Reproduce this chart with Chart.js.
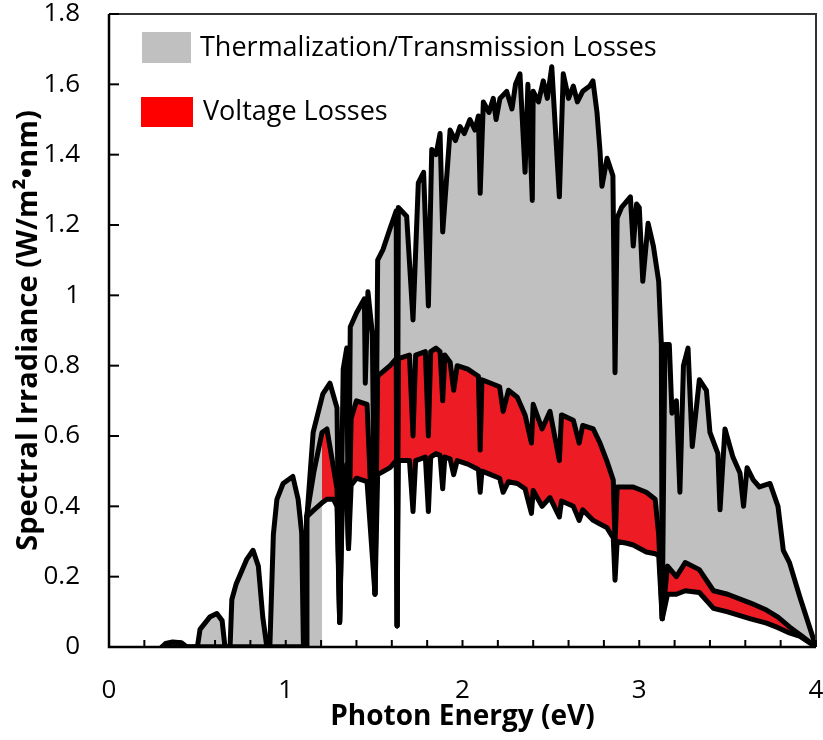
<!DOCTYPE html>
<html>
<head>
<meta charset="utf-8">
<script src="https://cdn.jsdelivr.net/npm/chart.js@4.4.0/dist/chart.umd.min.js"></script>
<style>
  html, body { margin: 0; padding: 0; background: #fff; }
</style>
</head>
<body>
<canvas id="myChart" width="823" height="740"></canvas>
<script>
// solar spectrum (top curve), photon energy in eV vs W/m2/nm
const sunEnergy = [0.30, 0.32, 0.36, 0.41, 0.44, 0.50, 0.515, 0.57, 0.61, 0.64, 0.656, 0.685, 0.695, 0.72, 0.78, 0.815, 0.845, 0.87, 0.893,
  0.91, 0.93, 0.95, 0.985, 1.04, 1.07, 1.09, 1.10, 1.115, 1.12, 1.155, 1.21, 1.25, 1.29, 1.305, 1.325, 1.345, 1.355, 1.365, 1.40, 1.445, 1.45,
  1.465, 1.49, 1.505, 1.52, 1.55, 1.59, 1.625, 1.63, 1.637, 1.684, 1.72, 1.75, 1.78, 1.807, 1.826, 1.85, 1.873, 1.888, 1.93, 1.96, 1.986, 2.01, 2.042, 2.07, 2.09, 2.10,
  2.118, 2.15, 2.174, 2.19, 2.212, 2.25, 2.28, 2.30, 2.325, 2.354, 2.37, 2.395, 2.40, 2.43, 2.457, 2.48, 2.505, 2.548, 2.57, 2.60, 2.627, 2.65, 2.68, 2.72, 2.738, 2.761, 2.778, 2.789, 2.818,
  2.851, 2.863, 2.875, 2.90, 2.95, 2.966, 2.985, 3.00, 3.02, 3.05, 3.08, 3.11, 3.125, 3.13, 3.145, 3.17, 3.185, 3.21, 3.23, 3.25, 3.276,
  3.30, 3.34, 3.38, 3.40, 3.445, 3.457, 3.485, 3.53, 3.57, 3.59, 3.61, 3.645, 3.68, 3.74, 3.785, 3.815, 3.85, 3.91, 4.00];
const sunIrradiance = [0, 0.01, 0.014, 0.012, 0, 0, 0.05, 0.085, 0.095, 0.075, 0, 0, 0.135, 0.18, 0.25, 0.275, 0.23, 0.085, 0,
  0, 0.32, 0.42, 0.465, 0.485, 0.42, 0.325, 0, 0, 0.37, 0.61, 0.72, 0.75, 0.68, 0.07, 0.79, 0.85, 0.28, 0.91, 0.95, 0.99, 0.75,
  1.01, 0.89, 0.15, 1.10, 1.13, 1.19, 1.24, 0.06, 1.25, 1.225, 0.93, 1.32, 1.35, 0.97, 1.415, 1.40, 1.46, 1.18, 1.47, 1.44, 1.48, 1.46, 1.50, 1.47, 1.51, 1.29,
  1.55, 1.52, 1.56, 1.50, 1.56, 1.58, 1.53, 1.60, 1.63, 1.35, 1.60, 1.27, 1.58, 1.55, 1.61, 1.56, 1.65, 1.28, 1.63, 1.56, 1.595, 1.55, 1.58, 1.595, 1.61, 1.52, 1.41, 1.31, 1.39,
  1.34, 0.78, 1.22, 1.25, 1.28, 1.14, 1.26, 1.25, 1.04, 1.205, 1.14, 1.04, 0.86, 0.08, 0.86, 0.86, 0.665, 0.70, 0.44, 0.80, 0.85,
  0.57, 0.76, 0.73, 0.61, 0.55, 0.39, 0.62, 0.54, 0.495, 0.40, 0.51, 0.475, 0.455, 0.465, 0.40, 0.275, 0.24, 0.14, 0];

// cell curves: upper edge of voltage losses and extracted power
const cellEnergy = [0.30, 1.11, 1.118, 1.16, 1.205, 1.233, 1.27, 1.29, 1.305, 1.32, 1.345, 1.355, 1.37, 1.40, 1.46, 1.505, 1.52, 1.59,
  1.625, 1.63, 1.637, 1.70, 1.72, 1.735, 1.79, 1.807, 1.82, 1.85, 1.873, 1.888, 1.90, 1.93, 1.95, 1.97, 2.03, 2.09, 2.10, 2.11, 2.16, 2.21, 2.23, 2.26, 2.31, 2.354,
  2.39, 2.40, 2.45, 2.495, 2.548, 2.56, 2.627, 2.66, 2.68, 2.74, 2.778, 2.816, 2.853, 2.863, 2.875, 2.93, 2.966, 3.04, 3.09, 3.11, 3.13, 3.16,
  3.21, 3.26, 3.34, 3.42, 3.50, 3.63, 3.72, 3.785, 3.85, 3.91, 4.00];
const voltageEdge = [0, 0, 0.37, 0.50, 0.61, 0.62, 0.51, 0.45, 0.07, 0.45, 0.52, 0.28, 0.65, 0.70, 0.69, 0.15, 0.77, 0.80,
  0.82, 0.06, 0.82, 0.83, 0.60, 0.83, 0.84, 0.60, 0.84, 0.85, 0.84, 0.70, 0.83, 0.81, 0.73, 0.80, 0.79, 0.77, 0.56, 0.76, 0.75, 0.74, 0.67, 0.73, 0.71, 0.66,
  0.58, 0.69, 0.62, 0.67, 0.53, 0.66, 0.645, 0.58, 0.63, 0.62, 0.58, 0.53, 0.475, 0.30, 0.455, 0.455, 0.455, 0.44, 0.42, 0.32, 0.08, 0.23,
  0.20, 0.24, 0.22, 0.16, 0.15, 0.125, 0.105, 0.085, 0.057, 0.035, 0];
const powerOut = [0, 0, 0.37, 0.39, 0.41, 0.42, 0.42, 0.40, 0.07, 0.40, 0.44, 0.28, 0.46, 0.48, 0.47, 0.15, 0.49, 0.51,
  0.53, 0.06, 0.53, 0.53, 0.385, 0.53, 0.54, 0.385, 0.54, 0.55, 0.545, 0.45, 0.54, 0.535, 0.49, 0.53, 0.52, 0.505, 0.44, 0.50, 0.49, 0.48, 0.44, 0.47, 0.465, 0.45,
  0.38, 0.445, 0.40, 0.425, 0.37, 0.415, 0.40, 0.36, 0.39, 0.36, 0.35, 0.34, 0.31, 0.19, 0.30, 0.295, 0.29, 0.27, 0.265, 0.26, 0.08, 0.15,
  0.15, 0.16, 0.155, 0.11, 0.10, 0.08, 0.068, 0.055, 0.04, 0.03, 0];

const bandgap = 1.2;
const xTickLabels = ['0', '1', '2', '3', '4'];
const yTickLabels = ['0', '0.2', '0.4', '0.6', '0.8', '1', '1.2', '1.4', '1.6', '1.8'];
const legendNames = ['Thermalization/Transmission Losses', 'Voltage Losses'];

const fontFamily = "'Open Sans', sans-serif";
const grey = '#c0c0c0';
const red = '#ed1c24';

const toPoints = (xs, ys) => xs.map((x, i) => ({ x: x, y: ys[i] }));
// fills only start above the bandgap
const aboveGap = cellEnergy.map((e, i) => e >= bandgap ? i : -1).filter(i => i >= 0);

const fillSet = (data, fill, color) => ({
  data: data, fill: fill, backgroundColor: color,
  borderColor: 'rgba(0,0,0,0)', borderWidth: 0, pointRadius: 0
});
const lineSet = (data) => ({
  data: data, fill: false, borderColor: '#000', borderWidth: 5,
  borderJoinStyle: 'round', borderCapStyle: 'round', pointRadius: 0
});

// fixed plot box
const noPad = (scale) => {
  scale.paddingLeft = 0; scale.paddingRight = 0;
  scale.paddingTop = 0; scale.paddingBottom = 0;
};

// frame, inward ticks and legend
const framePlugin = {
  id: 'frame',
  afterDatasetsDraw(chart) {
    const { ctx, chartArea: a, scales: { x, y } } = chart;
    ctx.save();
    ctx.strokeStyle = '#333';
    ctx.lineWidth = 2;
    ctx.beginPath();
    ctx.moveTo(a.left, a.top); ctx.lineTo(a.right, a.top); ctx.lineTo(a.right, a.bottom);
    ctx.stroke();
    ctx.strokeStyle = '#000';
    ctx.lineWidth = 2.5;
    ctx.beginPath();
    ctx.moveTo(a.left, a.top); ctx.lineTo(a.left, a.bottom); ctx.lineTo(a.right, a.bottom);
    ctx.stroke();
    ctx.lineWidth = 2;
    x.ticks.forEach(t => {
      const px = x.getPixelForValue(t.value);
      ctx.beginPath(); ctx.moveTo(px, a.bottom); ctx.lineTo(px, a.bottom - 7); ctx.stroke();
    });
    y.ticks.forEach(t => {
      const py = y.getPixelForValue(t.value);
      ctx.beginPath(); ctx.moveTo(a.left, py); ctx.lineTo(a.left + 10, py); ctx.stroke();
    });

    // legend
    ctx.font = '27px ' + fontFamily;
    ctx.textBaseline = 'middle';
    ctx.fillStyle = grey;
    ctx.fillRect(a.left + 33, a.top + 18, 49, 31);
    ctx.fillStyle = '#ff0000';
    ctx.fillRect(a.left + 32, a.top + 83, 52, 30);
    ctx.fillStyle = '#000';
    ctx.fillText(legendNames[0], a.left + 91, a.top + 34);
    ctx.fillText(legendNames[1], a.left + 94, a.top + 98);
    ctx.restore();
  }
};

const ctx = document.getElementById('myChart');
const myChart = new Chart(ctx, {
  type: 'line',
  data: {
    datasets: [
      fillSet(aboveGap.map(i => ({ x: cellEnergy[i], y: powerOut[i] })), 'origin', '#ffffff'),
      fillSet(aboveGap.map(i => ({ x: cellEnergy[i], y: voltageEdge[i] })), '-1', red),
      fillSet(toPoints(sunEnergy, sunIrradiance), 'origin', grey),
      lineSet(toPoints(sunEnergy, sunIrradiance)),
      lineSet(toPoints(cellEnergy, voltageEdge)),
      lineSet(toPoints(cellEnergy, powerOut))
    ]
  },
  options: {
    responsive: false,
    animation: false,
    events: [],
    layout: {
      autoPadding: false,
      padding: { top: 14, right: 7, left: 0, bottom: 0 }
    },
    plugins: {
      legend: { display: false },
      tooltip: { enabled: false },
      filler: { drawTime: 'beforeDatasetsDraw', propagate: false }
    },
    scales: {
      x: {
        type: 'linear',
        min: 0,
        max: 4,
        afterFit: (scale) => { scale.height = 93; noPad(scale); },
        grid: { display: false, drawTicks: false },
        border: { display: false },
        ticks: {
          stepSize: 0.2,
          autoSkip: false,
          maxRotation: 0,
          padding: 28,
          color: '#000',
          font: { family: fontFamily, size: 26 },
          callback: (value) => {
            const k = Math.round(value * 5);
            return k % 5 === 0 ? xTickLabels[k / 5] : '';
          }
        },
        title: {
          display: true,
          text: 'Photon Energy (eV)',
          color: '#000',
          font: { family: fontFamily, size: 28, weight: 'bold' },
          padding: { top: 0, bottom: 6 }
        }
      },
      y: {
        min: 0,
        max: 1.8,
        afterFit: (scale) => { scale.width = 109; noPad(scale); },
        grid: { display: false, drawTicks: false },
        border: { display: false },
        ticks: {
          stepSize: 0.2,
          autoSkip: false,
          padding: 29,
          color: '#000',
          font: { family: fontFamily, size: 26 },
          callback: (value, index) => yTickLabels[index]
        },
        title: {
          display: true,
          text: 'Spectral Irradiance (W/m²•nm)',
          color: '#000',
          font: { family: fontFamily, size: 29, weight: 'bold' },
          padding: { top: 11, bottom: 0 }
        }
      }
    }
  },
  plugins: [framePlugin]
});
</script>
</body>
</html>
